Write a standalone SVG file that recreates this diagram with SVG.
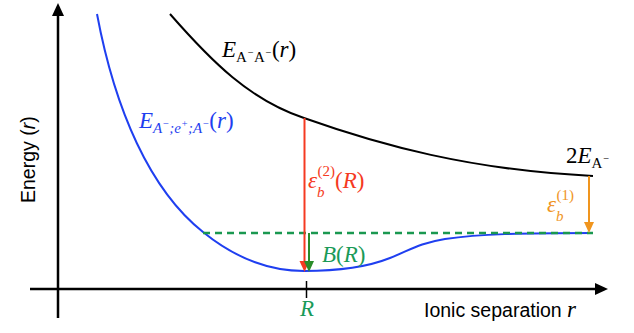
<svg xmlns="http://www.w3.org/2000/svg" width="634" height="333" viewBox="0 0 634 333">
<style>
.ax{stroke:#000;stroke-width:2.5;fill:none}
.m{font-family:"Liberation Serif","Times New Roman",serif;font-style:italic;font-size:23px}
.up{font-style:normal}
.s{font-size:15px}
.ss{font-size:10.5px}
.sans{font-family:"Liberation Sans",Arial,sans-serif;font-size:19.5px}
</style>
<rect width="634" height="333" fill="#fff"/>
<g id="axes">
<line class="ax" x1="58" y1="14" x2="58" y2="318"/>
<polygon points="58,3 52,16 64,16" fill="#000"/>
<line class="ax" x1="30" y1="289" x2="597" y2="289"/>
<polygon points="608,289 595,283 595,295" fill="#000"/>
<line x1="306.5" y1="281" x2="306.5" y2="298" stroke="#000" stroke-width="1.5"/>
<text class="sans" transform="translate(35,203) rotate(-90)">Energy (<tspan font-style="italic">r</tspan>)</text>
<text class="sans" x="424" y="317">Ionic separation <tspan class="m" font-size="22">r</tspan></text>
<text class="m" x="300" y="316" font-size="20" fill="#1a9a58">R</text>
</g>
<g id="curve-AA">
<path d="M170,14 C212,62 250,100 304,118 C380,145 470,170 593,176" fill="none" stroke="#000" stroke-width="2"/>
<text class="m" x="222" y="57">E<tspan class="s up" dy="5">A</tspan><tspan class="ss" dy="-6">−</tspan><tspan class="s up" dy="6">A</tspan><tspan class="ss" dy="-6">−</tspan><tspan class="up" dy="1">(</tspan>r<tspan class="up">)</tspan></text>
<text class="m" x="566" y="163"><tspan class="up">2</tspan>E<tspan class="s up" dy="5">A</tspan><tspan class="ss" dy="-6">−</tspan></text>
</g>
<g id="curve-AeA">
<path d="M97,14 C115,110 150,190 203,232 C240,262 275,271 304,271 C335,271 365,268 390,258 C410,250 420,243 445,239 C480,234 520,233 593,233" fill="none" stroke="#1f3ff0" stroke-width="2"/>
<text class="m" x="139" y="128" fill="#1f3ff0">E<tspan class="s" dy="5">A</tspan><tspan class="ss" dy="-6">−</tspan><tspan class="s" dy="6">;e</tspan><tspan class="ss" dy="-6">+</tspan><tspan class="s" dy="6">;A</tspan><tspan class="ss" dy="-6">−</tspan><tspan class="up" dy="1">(</tspan>r<tspan class="up">)</tspan></text>
</g>
<g id="connectors">
<line x1="203" y1="233" x2="593" y2="233" stroke="#1a9850" stroke-width="2.5" stroke-dasharray="7,5"/>
<line x1="304.5" y1="118" x2="304.5" y2="263" stroke="#f53a22" stroke-width="2"/>
<polygon points="304.5,272 299.5,261 309.5,261" fill="#f53a22"/>
<line x1="309" y1="233" x2="309" y2="263" stroke="#2a8c2a" stroke-width="2"/>
<polygon points="309,272 304,261 314,261" fill="#2a8c2a"/>
<line x1="589" y1="176" x2="589" y2="225" stroke="#f0951e" stroke-width="2"/>
<polygon points="589,233 584,222 594,222" fill="#f0951e"/>
</g>
<g id="labels">
<text class="m" x="308" y="188" fill="#f53a22">ε<tspan class="s" dy="9">b</tspan><tspan class="s up" dx="-7" dy="-21">(2)</tspan><tspan class="up" dy="12">(</tspan>R<tspan class="up">)</tspan></text>
<text class="m" x="547" y="212" fill="#f0951e">ε<tspan class="s" dy="9">b</tspan><tspan class="s up" dx="-7" dy="-21">(1)</tspan></text>
<text class="m" x="322" y="262" fill="#1a9a58">B<tspan class="up">(</tspan>R<tspan class="up">)</tspan></text>
</g>
</svg>
